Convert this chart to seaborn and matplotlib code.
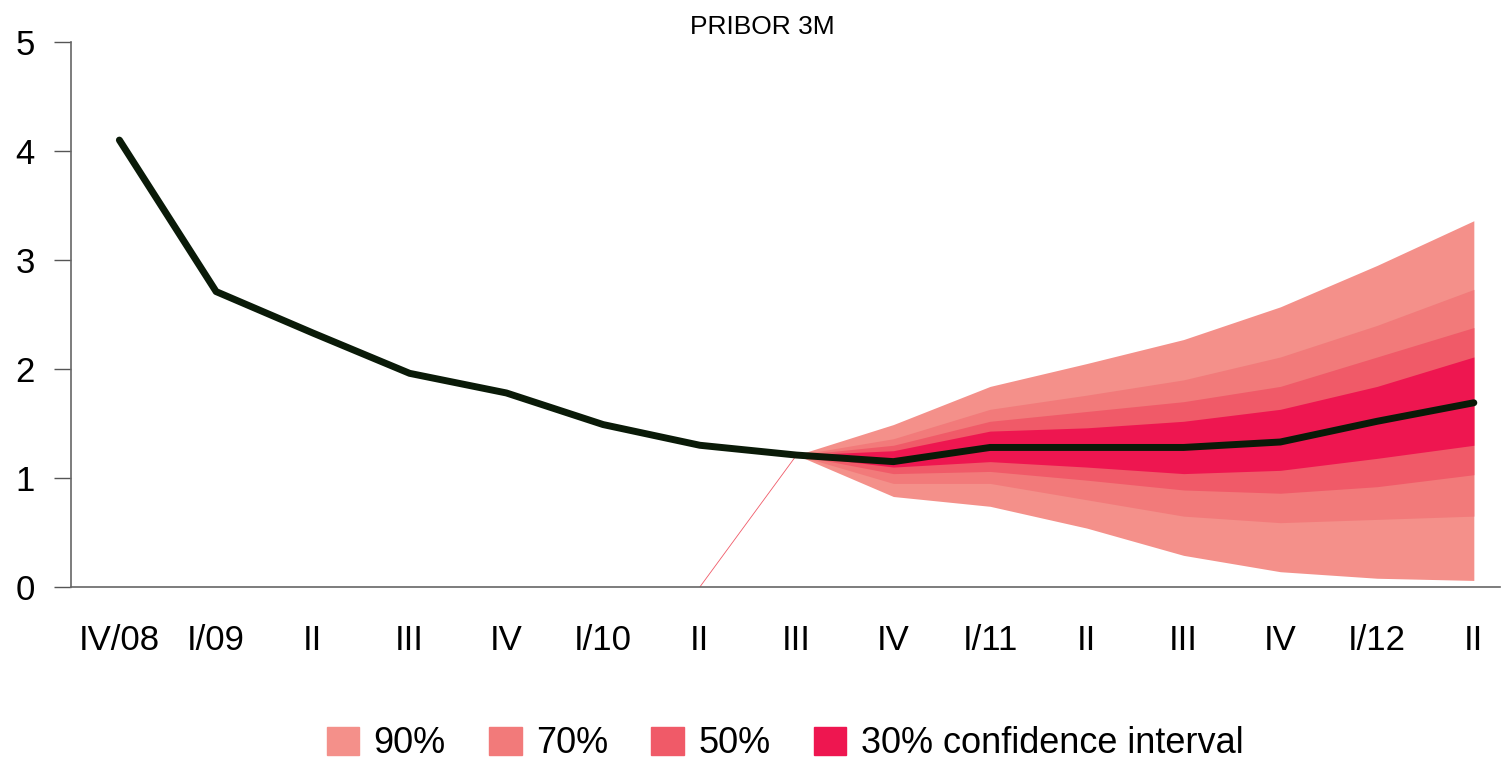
import numpy as np
import pandas as pd
import matplotlib.pyplot as plt
import matplotlib.patches as mpatches
import seaborn as sns

sns.set_theme(style='white')
plt.rcParams['font.family'] = ['Liberation Sans', 'DejaVu Sans']
plt.rcParams['text.color'] = 'black'

# Quarters
quarters = ['IV/08', 'I/09', 'II', 'III', 'IV', 'I/10', 'II', 'III',
            'IV', 'I/11', 'II', 'III', 'IV', 'I/12', 'II']

# PRIBOR 3M (history + central forecast)
pribor = [4.10, 2.71, 2.33, 1.96, 1.78, 1.49, 1.30, 1.21,
          1.15, 1.28, 1.28, 1.28, 1.33, 1.52, 1.69]

# fan bands, from II/10 (index 6) on
fan_start = 6
up90 = [0.0, 1.21, 1.49, 1.84, 2.05, 2.27, 2.57, 2.95, 3.36]
up70 = [0.0, 1.21, 1.36, 1.63, 1.76, 1.90, 2.11, 2.40, 2.73]
up50 = [0.0, 1.21, 1.30, 1.52, 1.61, 1.70, 1.84, 2.11, 2.38]
up30 = [0.0, 1.21, 1.25, 1.43, 1.46, 1.52, 1.63, 1.84, 2.11]
lo30 = [0.0, 1.21, 1.10, 1.15, 1.10, 1.04, 1.07, 1.18, 1.30]
lo50 = [0.0, 1.21, 1.04, 1.06, 0.98, 0.89, 0.86, 0.92, 1.03]
lo70 = [0.0, 1.21, 0.95, 0.95, 0.80, 0.65, 0.59, 0.62, 0.65]
lo90 = [0.0, 1.21, 0.83, 0.74, 0.54, 0.29, 0.14, 0.08, 0.06]

colors = {'90%': '#F4908A', '70%': '#F27A7A', '50%': '#F05A68', '30%': '#EE1650'}

df = pd.DataFrame({'x': np.arange(len(quarters)), 'pribor': pribor})
xf = np.arange(fan_start, len(quarters))

fig = plt.figure(figsize=(15.01, 7.63), dpi=100)
ax = fig.add_axes([0.0473, 0.2307, 0.952, 0.7143])

bands = [('90%', lo90, up90), ('70%', lo70, up70),
         ('50%', lo50, up50), ('30%', lo30, up30)]
for name, lo, up in bands:
    ax.fill_between(xf[1:], lo[1:], up[1:], color=colors[name], lw=0)

# thin edge of the fan coming up from zero
ax.plot(xf[:2], lo90[:2], color='#F05A68', lw=0.6)

sns.lineplot(data=df, x='x', y='pribor', ax=ax, color='#0A1A08', lw=5,
             solid_capstyle='round', solid_joinstyle='round')

ax.set_xlim(-0.5, 14.27)
ax.set_ylim(0, 5)
ax.set_yticks([0, 1, 2, 3, 4, 5])
ax.set_xticks(df['x'])
ax.set_xticklabels(quarters)
ax.set_xlabel('')
ax.set_ylabel('')
ax.tick_params(axis='y', direction='out', length=12, width=1, color='#555555',
               labelsize=25, pad=14, left=True, labelcolor='black')
ax.tick_params(axis='x', length=0, labelsize=25, pad=27, labelcolor='black')

for s in ['top', 'right']:
    ax.spines[s].set_visible(False)
for s in ['left', 'bottom']:
    ax.spines[s].set_color('#666666')
    ax.spines[s].set_linewidth(1.2)

ax.set_title('PRIBOR 3M', fontsize=19, pad=6, color='black', x=0.484)

handles = [mpatches.Patch(color=colors[k], label=lab) for k, lab in
           [('90%', '90%'), ('70%', '70%'), ('50%', '50%'), ('30%', '30% confidence interval')]]
fig.legend(handles=handles, loc='center', bbox_to_anchor=(0.523, 0.025), ncol=4,
           frameon=False, fontsize=26, handlelength=0.9, handleheight=0.8,
           handletextpad=0.4, columnspacing=1.2, borderpad=0)

fig.savefig('out.png', dpi=100)
